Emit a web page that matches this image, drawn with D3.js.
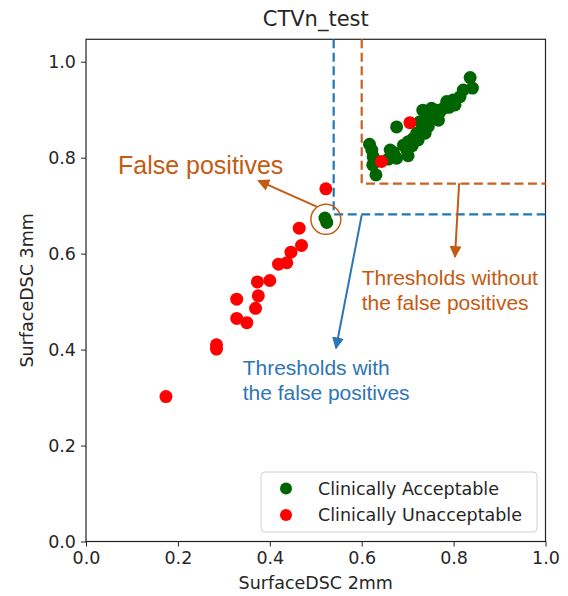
<html lang="en">
<head>
  <title>CTVn_test</title>
  <meta charset="utf-8">
  <script src="https://d3js.org/d3.v7.min.js"></script>
  <style>
    body { margin: 0; background: #fff; }
    svg { display: block; }
  </style>
</head>
<body>
  <svg id="canvas"></svg>
<script>

// ************************************************************************************** //
// Data

var title = 'CTVn_test';
var xLabel = 'SurfaceDSC 2mm', yLabel = 'SurfaceDSC 3mm';
var tickValues = [0, 0.2, 0.4, 0.6, 0.8, 1.0];

var acceptableX = [0.836, 0.841, 0.821, 0.814, 0.799, 0.785, 0.803, 0.778, 0.763, 0.752, 0.741, 0.733,
                   0.767, 0.745, 0.727, 0.676, 0.734, 0.720, 0.738, 0.712, 0.723, 0.701, 0.691, 0.698,
                   0.617, 0.622, 0.662, 0.701, 0.676, 0.658, 0.625, 0.624, 0.631, 0.669, 0.755, 0.790,
                   0.710, 0.745, 0.770, 0.520, 0.524];
var acceptableY = [0.967, 0.945, 0.941, 0.927, 0.920, 0.917, 0.910, 0.903, 0.899, 0.903, 0.896, 0.899,
                   0.878, 0.882, 0.875, 0.864, 0.859, 0.851, 0.851, 0.840, 0.837, 0.833, 0.826, 0.816,
                   0.828, 0.816, 0.816, 0.804, 0.799, 0.797, 0.802, 0.785, 0.764, 0.811, 0.885, 0.905,
                   0.825, 0.865, 0.895, 0.674, 0.665];

var unacceptableX = [0.705, 0.643, 0.522, 0.464, 0.469, 0.446, 0.437, 0.419, 0.400, 0.373, 0.375,
                     0.328, 0.369, 0.328, 0.350, 0.284, 0.284, 0.174];
var unacceptableY = [0.873, 0.792, 0.735, 0.653, 0.617, 0.603, 0.581, 0.578, 0.544, 0.541, 0.512,
                     0.505, 0.486, 0.465, 0.456, 0.410, 0.401, 0.302];

var legendLabels = ['Clinically Acceptable', 'Clinically Unacceptable'];
var seriesColors = ['#006400', '#ff0000'];

// thresholds: with / without the false positives
var thrWith = { x: 0.539, y: 0.682 };
var thrWithout = { x: 0.600, y: 0.746 };

// ************************************************************************************** //
// Layout

var width = 568, height = 596;
var svg = d3.select('#canvas').attr('width', width).attr('height', height);

var x = d3.scaleLinear().domain([0, 1]).range([86, 545.5]);
var y = d3.scaleLinear().domain([0, 1.0467]).range([541.5, 39.3]);

var orange = '#c55a11', blue = '#2e75b6';
var textColor = '#262626';
var mplFont = '"DejaVu Sans", sans-serif';
var pptFont = '"Liberation Sans", Arial, sans-serif';

svg.append('defs').selectAll('marker')
  .data([{ id: 'head-orange', c: orange }, { id: 'head-blue', c: blue }])
  .join('marker')
    .attr('id', d => d.id)
    .attr('viewBox', '0 0 10 10')
    .attr('refX', 9).attr('refY', 5)
    .attr('markerWidth', 6).attr('markerHeight', 6)
    .attr('markerUnits', 'strokeWidth')
    .attr('orient', 'auto')
  .append('path')
    .attr('d', 'M0,0 L10,5 L0,10 z')
    .attr('fill', d => d.c);

// ************************************************************************************** //
// Axes

var xAxis = d3.axisBottom(x).tickValues(tickValues).tickFormat(d3.format('.1f')).tickSize(5).tickPadding(5);
var yAxis = d3.axisLeft(y).tickValues(tickValues).tickFormat(d3.format('.1f')).tickSize(5).tickPadding(5);

var gx = svg.append('g').attr('transform', 'translate(0,' + y(0) + ')').call(xAxis);
var gy = svg.append('g').attr('transform', 'translate(' + x(0) + ',0)').call(yAxis);

[gx, gy].forEach(g => {
  g.select('.domain').remove();
  g.selectAll('line').attr('stroke', '#222').attr('stroke-width', 1);
  g.selectAll('text').attr('fill', textColor).style('font-family', mplFont).style('font-size', '17.5px');
});

svg.append('rect')
  .attr('x', x(0)).attr('y', y(1.0467))
  .attr('width', x(1) - x(0)).attr('height', y(0) - y(1.0467))
  .attr('fill', 'none').attr('stroke', '#222').attr('stroke-width', 1.2);

svg.append('text')
  .attr('x', (x(0) + x(1)) / 2).attr('y', 26)
  .attr('text-anchor', 'middle')
  .attr('fill', textColor).style('font-family', mplFont).style('font-size', '21px')
  .text(title);

svg.append('text')
  .attr('x', (x(0) + x(1)) / 2).attr('y', 589)
  .attr('text-anchor', 'middle')
  .attr('fill', textColor).style('font-family', mplFont).style('font-size', '17.5px')
  .text(xLabel);

svg.append('text')
  .attr('transform', 'translate(33,' + (y(0) + y(1.0467)) / 2 + ') rotate(-90)')
  .attr('text-anchor', 'middle')
  .attr('fill', textColor).style('font-family', mplFont).style('font-size', '17.5px')
  .text(yLabel);

// ************************************************************************************** //
// Threshold lines

var lineGen = d3.line().x(d => x(d[0])).y(d => y(d[1]));
var thresholds = [
  { t: thrWithout, c: '#c8621e' },
  { t: thrWith, c: '#1f77b4' }
];
svg.selectAll('.thr').data(thresholds).join('path')
  .attr('class', 'thr')
  .attr('d', d => lineGen([[d.t.x, 1.0467], [d.t.x, d.t.y], [1, d.t.y]]))
  .attr('fill', 'none')
  .attr('stroke', d => d.c)
  .attr('stroke-width', 2.2)
  .attr('stroke-dasharray', '9,4.5');

// ************************************************************************************** //
// Points

var acceptable = acceptableX.map((v, i) => ({ x: v, y: acceptableY[i] }));
var unacceptable = unacceptableX.map((v, i) => ({ x: v, y: unacceptableY[i] }));

svg.append('g').selectAll('circle').data(acceptable).join('circle')
  .attr('cx', d => x(d.x)).attr('cy', d => y(d.y)).attr('r', 6.5)
  .attr('fill', seriesColors[0]);

svg.append('g').selectAll('circle').data(unacceptable).join('circle')
  .attr('cx', d => x(d.x)).attr('cy', d => y(d.y)).attr('r', 6.5)
  .attr('fill', seriesColors[1]);

// ************************************************************************************** //
// Legend

var legend = svg.append('g');
legend.append('rect')
  .attr('x', 261).attr('y', 472).attr('width', 276).attr('height', 60)
  .attr('rx', 4)
  .attr('fill', 'rgba(255,255,255,0.8)').attr('stroke', '#d0d0d0');

legend.selectAll('circle').data(legendLabels).join('circle')
  .attr('cx', 286).attr('cy', (d, i) => 488.5 + i * 26.5).attr('r', 6)
  .attr('fill', (d, i) => seriesColors[i]);

legend.selectAll('text').data(legendLabels).join('text')
  .attr('x', 318).attr('y', (d, i) => 494.5 + i * 26.5)
  .attr('fill', textColor).style('font-family', mplFont).style('font-size', '17.5px')
  .text(d => d);

// ************************************************************************************** //
// Annotations (slide overlay)

svg.append('circle')
  .attr('cx', x(0.522)).attr('cy', y(0.6715)).attr('r', 15)
  .attr('fill', 'none').attr('stroke', orange).attr('stroke-width', 1.5);

var arrows = [
  { from: [0.502, 0.698], to: [0.375, 0.752], c: orange, m: 'head-orange' },
  { from: [0.812, 0.7466], to: [0.803, 0.593], c: orange, m: 'head-orange' },
  { from: [0.600, 0.680], to: [0.544, 0.4027], c: blue, m: 'head-blue' }
];
svg.selectAll('.arrow').data(arrows).join('path')
  .attr('class', 'arrow')
  .attr('d', d => lineGen([d.from, d.to]))
  .attr('stroke', d => d.c).attr('stroke-width', 2).attr('fill', 'none')
  .attr('marker-end', d => 'url(#' + d.m + ')');

var notes = [
  { x: 0.0696, y: 0.766, size: 25, c: orange, lines: ['False positives'] },
  { x: 0.600, y: 0.5346, size: 21, c: orange, lines: ['Thresholds without', 'the false positives'] },
  { x: 0.341, y: 0.347, size: 21, c: blue, lines: ['Thresholds with', 'the false positives'] }
];
notes.forEach(n => {
  svg.append('text')
    .attr('x', x(n.x)).attr('y', y(n.y))
    .attr('fill', n.c).style('font-family', pptFont).style('font-size', n.size + 'px')
    .selectAll('tspan').data(n.lines).join('tspan')
      .attr('x', x(n.x)).attr('dy', (d, i) => i ? '1.2em' : 0)
      .text(d => d);
});

</script>
</body>
</html>
